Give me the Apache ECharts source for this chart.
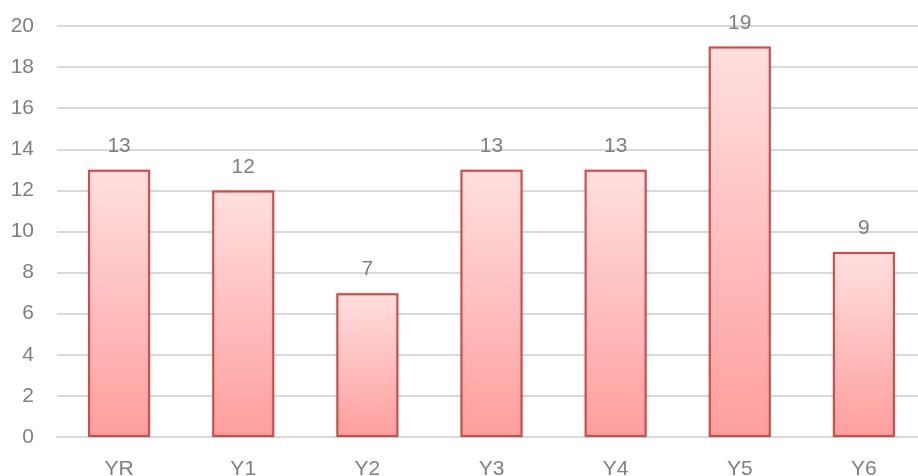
<!DOCTYPE html>
<html>
<head>
<meta charset="utf-8">
<script src="https://cdn.jsdelivr.net/npm/echarts@6/dist/echarts.min.js"></script>
<style>
html,body{margin:0;padding:0;background:#fff;}
#c{width:918px;height:476px;}
</style>
</head>
<body>
<div id="c"></div>
<script>
const categories = ['YR', 'Y1', 'Y2', 'Y3', 'Y4', 'Y5', 'Y6'];
const values = [13, 12, 7, 13, 13, 19, 9];
const yTicks = { min: 0, max: 20, interval: 2 };

const chart = echarts.init(document.getElementById('c'));
chart.setOption({
  animation: false,
  grid: { left: 57, width: 869, top: 26, bottom: 39, containLabel: false, outerBoundsMode: 'none' },
  xAxis: {
    type: 'category',
    data: categories,
    axisLine: { show: true, lineStyle: { color: '#d9d9d9', width: 2 } },
    axisTick: { show: false },
    axisLabel: { color: '#7f7f7f', fontSize: 21, fontFamily: 'Liberation Sans, Arial, sans-serif', margin: 22 }
  },
  yAxis: {
    type: 'value',
    min: yTicks.min, max: yTicks.max, interval: yTicks.interval,
    axisLine: { show: false },
    axisTick: { show: false },
    axisLabel: { color: '#7f7f7f', fontSize: 21, fontFamily: 'Liberation Sans, Arial, sans-serif', margin: 23 },
    splitLine: { lineStyle: { color: '#d9d9d9', width: 2 } }
  },
  series: [{
    type: 'bar',
    data: values,
    barWidth: '50%',
    itemStyle: {
      color: new echarts.graphic.LinearGradient(0, 0, 0, 1, [
        { offset: 0, color: '#ffdfdf' },
        { offset: 1, color: '#ff9e9e' }
      ]),
      borderColor: '#c0504d',
      borderWidth: 2,
      shadowColor: 'rgba(0,0,0,0.15)',
      shadowBlur: 3
    },
    label: {
      show: true,
      position: 'top',
      distance: 13,
      color: '#7f7f7f',
      fontSize: 21,
      fontFamily: 'Liberation Sans, Arial, sans-serif'
    }
  }]
});
</script>
</body>
</html>
